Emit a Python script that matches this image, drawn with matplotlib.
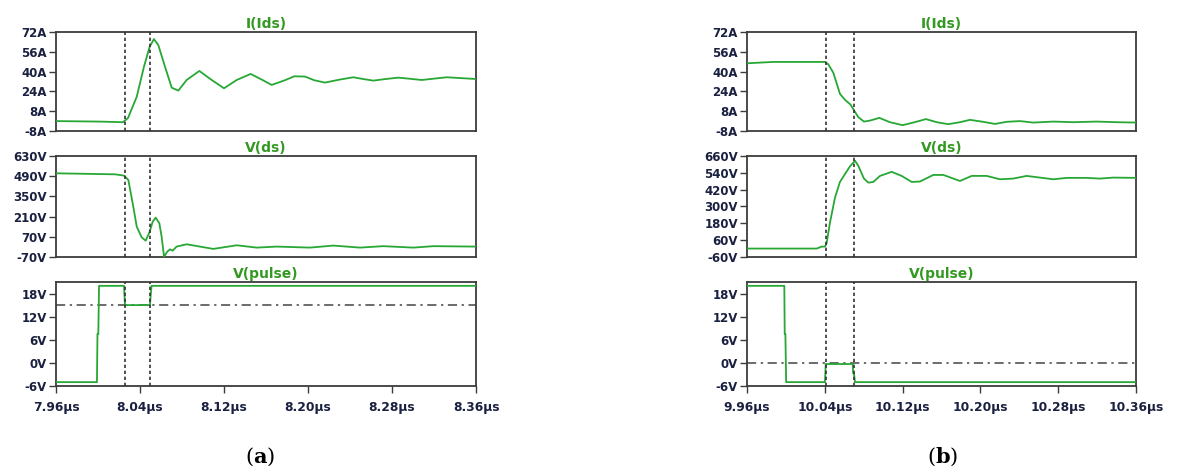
import matplotlib.pyplot as plt

plt.rcParams['mathtext.fontset'] = 'dejavuserif'

# ---- (a) turn-on, times in µs ----
a_ids_t = [7.960, 8.001, 8.0238, 8.0286, 8.0369, 8.0438, 8.0492, 8.0533, 8.0574, 8.0638,
           8.0702, 8.0765, 8.0844, 8.0965, 8.1083, 8.1200, 8.1321, 8.1454, 8.1560, 8.1654,
           8.1780, 8.1870, 8.1970, 8.2060, 8.2162, 8.2300, 8.2431, 8.2525, 8.2622, 8.2740,
           8.2860, 8.2970, 8.3083, 8.3200, 8.3321, 8.3600]
a_ids_v = [0.0, -0.4, -0.9, 2.5, 19.7, 44.0, 60.1, 66.3, 61.5, 44.0,
           27.0, 24.6, 33.2, 40.5, 33.2, 26.5, 33.2, 38.1, 33.5, 29.2,
           33.0, 36.2, 36.0, 33.0, 31.1, 33.5, 35.4, 34.0, 32.7, 34.0,
           35.1, 34.2, 33.2, 34.3, 35.4, 34.0]

a_vds_t = [7.960, 8.0162, 8.0248, 8.0289, 8.0336, 8.0369, 8.0416, 8.0454, 8.0492, 8.0521,
           8.0549, 8.0584, 8.0606, 8.0629, 8.0660, 8.0686, 8.0711, 8.0749, 8.0844, 8.0971,
           8.1098, 8.1321, 8.1511, 8.1702, 8.2019, 8.2241, 8.2495, 8.2717, 8.3003, 8.3194,
           8.3600]
a_vds_v = [510, 503, 494, 464, 279, 140, 66, 43, 105, 175,
           203, 164, 71, -68, -33, -17, -26, 2, 18, 2,
           -14, 11, -5, 2, -5, 9, -5, 5, -5, 5,
           2]

a_pulse_t = [7.960, 7.9990, 7.9995, 8.0003, 8.0010, 8.0248, 8.0257, 8.0495, 8.0503, 8.0510, 8.3600]
a_pulse_v = [-5, -5, 7.5, 7.5, 20, 20, 15, 15, 18, 20, 20]

a_cursors = [8.0257, 8.0492]
a_ref_level = 15
a_xticks = [7.96, 8.04, 8.12, 8.20, 8.28, 8.36]
a_xlabels = ['7.96µs', '8.04µs', '8.12µs', '8.20µs', '8.28µs', '8.36µs']

# ---- (b) turn-off ----
b_ids_t = [9.960, 9.987, 10.0402, 10.0436, 10.0488, 10.0556, 10.0607, 10.0666, 10.0697, 10.0745,
           10.0803, 10.0865, 10.0961, 10.107, 10.1201, 10.131, 10.1441, 10.1551, 10.167, 10.179,
           10.1893, 10.203, 10.215, 10.227, 10.2407, 10.2544, 10.275, 10.2955, 10.3196, 10.3401,
           10.360]
b_ids_v = [46.7, 47.8, 47.8, 45.9, 39.1, 22.0, 17.3, 13.2, 9.1, 3.2,
           -0.4, 0.4, 2.6, -0.9, -3.3, -1.2, 1.6, -0.9, -2.5, -0.9,
           1.0, -0.6, -2.3, -0.6, 0.0, -1.2, -0.4, -0.9, -0.4, -0.9,
           -1.2]

b_vds_t = [9.960, 10.0317, 10.0368, 10.0402, 10.0419, 10.0453, 10.0505, 10.0556, 10.0607, 10.0659,
           10.0711, 10.0745, 10.0803, 10.0848, 10.0899, 10.0968, 10.1088, 10.1191, 10.1294, 10.1379,
           10.1516, 10.1619, 10.179, 10.1911, 10.2065, 10.2202, 10.2338, 10.2476, 10.2613, 10.275,
           10.2887, 10.3093, 10.323, 10.3367, 10.360]
b_vds_v = [0, 0, 14, 14, 38, 183, 363, 475, 530, 586,
           626, 590, 499, 470, 475, 518, 547, 518, 475, 478,
           525, 525, 482, 518, 518, 494, 499, 518, 506, 494,
           504, 504, 499, 506, 504]

b_pulse_t = [9.960, 9.9984, 9.9988, 9.9995, 10.0003, 10.0402, 10.0410, 10.0687, 10.0692, 10.0700, 10.0711, 10.360]
b_pulse_v = [20, 20, 7.5, 7.5, -5, -5, -0.3, -0.3, -2.7, -2.7, -5, -5]

b_cursors = [10.0412, 10.0697]
b_ref_level = 0
b_xticks = [9.96, 10.04, 10.12, 10.20, 10.28, 10.36]
b_xlabels = ['9.96µs', '10.04µs', '10.12µs', '10.20µs', '10.28µs', '10.36µs']

# ---- y axes ----
a_ids_ticks = [-8, 8, 24, 40, 56, 72]
a_ids_labels = ['-8A', '8A', '24A', '40A', '56A', '72A']
a_vds_ticks = [-70, 70, 210, 350, 490, 630]
a_vds_labels = ['-70V', '70V', '210V', '350V', '490V', '630V']
b_vds_ticks = [-60, 60, 180, 300, 420, 540, 660]
b_vds_labels = ['-60V', '60V', '180V', '300V', '420V', '540V', '660V']
pulse_ticks = [-6, 0, 6, 12, 18]
pulse_labels = ['-6V', '0V', '6V', '12V', '18V']

TRACE = '#27a834'
TITLE = '#339922'
LABEL = '#1a2040'
FRAME = '#3c3c3c'

fig = plt.figure(figsize=(11.99, 4.71), dpi=100)

rows = [(0.7219, 0.2102), (0.4544, 0.2144), (0.1805, 0.2208)]
cols = [(0.0467, 0.3503), (0.6230, 0.3244)]


def panel(rect, title, t, v, xlim, ylim, yticks, ylabels, cursors, xticks=None, xlabels=None, ref=None):
    ax = fig.add_axes(rect)
    ax.plot(t, v, color=TRACE, lw=1.3, zorder=3)
    for c in cursors:
        ax.axvline(c, color='#333333', lw=1.2, ls=(0, (2, 1.6)), zorder=4)
    if ref is not None:
        ax.axhline(ref, color='#444444', lw=1.1, ls=(0, (6, 3, 1.5, 3)), zorder=2)
    ax.set_xlim(xlim)
    ax.set_ylim(ylim)
    ax.set_yticks(yticks)
    ax.set_yticklabels(ylabels)
    if xticks is None:
        ax.set_xticks([])
    else:
        ax.set_xticks(xticks)
        ax.set_xticklabels(xlabels)
    ax.tick_params(axis='both', direction='out', length=5, width=1.0, color=FRAME,
                   labelsize=8.5, labelcolor=LABEL, pad=1.5)
    ax.tick_params(axis='x', labelsize=8.8, pad=6)
    for lab in ax.get_yticklabels() + ax.get_xticklabels():
        lab.set_fontweight('bold')
    for s in ax.spines.values():
        s.set_color(FRAME)
        s.set_linewidth(1.3)
    ax.set_title(title, color=TITLE, fontsize=10, fontweight='bold', pad=3)
    return ax


# left column
x0, w = cols[0]
xl = (a_xticks[0], a_xticks[-1])
panel([x0, rows[0][0], w, rows[0][1]], 'I(Ids)', a_ids_t, a_ids_v, xl, (-8, 72),
      a_ids_ticks, a_ids_labels, a_cursors)
panel([x0, rows[1][0], w, rows[1][1]], 'V(ds)', a_vds_t, a_vds_v, xl, (-70, 630),
      a_vds_ticks, a_vds_labels, a_cursors)
panel([x0, rows[2][0], w, rows[2][1]], 'V(pulse)', a_pulse_t, a_pulse_v, xl, (-6, 21),
      pulse_ticks, pulse_labels, a_cursors, a_xticks, a_xlabels, ref=a_ref_level)

# right column
x0, w = cols[1]
xl = (b_xticks[0], b_xticks[-1])
panel([x0, rows[0][0], w, rows[0][1]], 'I(Ids)', b_ids_t, b_ids_v, xl, (-8, 72),
      a_ids_ticks, a_ids_labels, b_cursors)
panel([x0, rows[1][0], w, rows[1][1]], 'V(ds)', b_vds_t, b_vds_v, xl, (-60, 660),
      b_vds_ticks, b_vds_labels, b_cursors)
panel([x0, rows[2][0], w, rows[2][1]], 'V(pulse)', b_pulse_t, b_pulse_v, xl, (-6, 21),
      pulse_ticks, pulse_labels, b_cursors, b_xticks, b_xlabels, ref=b_ref_level)

# sub-figure captions
fig.text(260 / 1199, 1 - 457 / 471, r'($\mathbf{a}$)', family='DejaVu Serif', fontsize=15,
         ha='center', va='center')
fig.text(943 / 1199, 1 - 457 / 471, r'($\mathbf{b}$)', family='DejaVu Serif', fontsize=15,
         ha='center', va='center')

fig.savefig('out.png', dpi=100)
